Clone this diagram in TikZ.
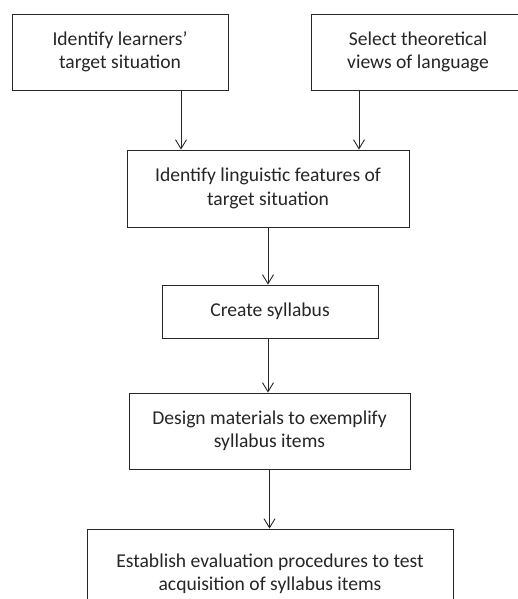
\documentclass[tikz,border=0pt]{standalone}
\usepackage{fontspec}
\setmainfont{Carlito}
\usetikzlibrary{arrows.meta}
\begin{document}
\begin{tikzpicture}[x=1pt,y=-1pt,
  box/.style={draw=black!85,line width=0.9pt,rectangle,inner sep=0pt,align=center,
    font=\fontsize{19.6}{23.5}\selectfont,text=black!85},
  arr/.style={draw=black!85,line width=0.9pt,-{Straight Barb[length=9pt,width=11pt,line width=0.9pt]}}]
\clip (0,0) rectangle (518,599);
\fill[white] (0,0) rectangle (518,599);
\node[box,minimum width=216pt,minimum height=76pt] (b1) at (120,52) {Identify learners’\\target situation};
\node[box,minimum width=214pt,minimum height=76pt] (b2) at (418,52) {Select theoretical\\views of language};
\node[box,minimum width=282pt,minimum height=77pt] (b3) at (268,188.5) {Identify linguistic features of\\target situation};
\node[box,minimum width=216pt,minimum height=53pt] (b4) at (270,311.5) {Create syllabus};
\node[box,minimum width=281pt,minimum height=76pt] (b5) at (269.5,431) {Design materials to exemplify\\syllabus items};
\node[box,minimum width=366pt,minimum height=90pt] (b6) at (270,574) {Establish evaluation procedures to test\\acquisition of syllabus items};
\draw[arr] ([xshift=61pt]b1.south) -- ([xshift=61pt]b1.south |- b3.north);
\draw[arr] ([xshift=-59pt]b2.south) -- ([xshift=-59pt]b2.south |- b3.north);
\draw[arr] (b3.south) -- (b3.south |- b4.north);
\draw[arr] ([xshift=-2pt]b4.south) -- ([xshift=-2pt]b4.south |- b5.north);
\draw[arr] (b5.south) -- (b5.south |- b6.north);
\end{tikzpicture}
\end{document}
